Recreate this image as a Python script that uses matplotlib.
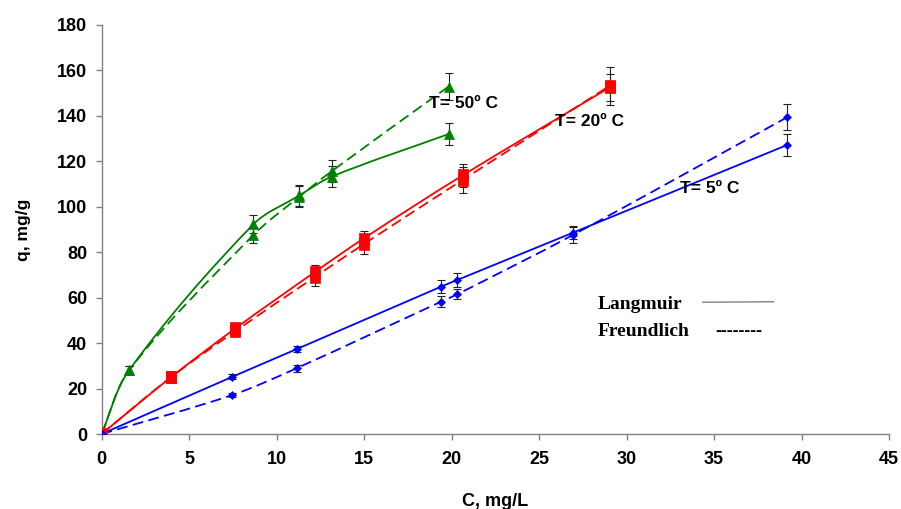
import matplotlib.pyplot as plt
from matplotlib.path import Path
from matplotlib.patches import PathPatch

# 50 C
c50 = [0, 1.57, 8.68, 11.31, 13.16, 19.83]
q50_lang = [0, 28, 92.3, 105, 113.3, 132]
q50_freu = [0, 28, 87.6, 104.5, 115.7, 152.9]
e50_lang = [0, 1.8, 4, 4.5, 4.7, 5]
e50_freu = [0, 1.8, 3.4, 4.5, 5, 6]

# 20 C
c20 = [0, 3.97, 7.65, 12.21, 14.97, 20.63, 29.03]
q20_lang = [0, 25, 46.5, 71.4, 86, 113.8, 152.5]
q20_freu = [0, 25, 45.3, 69.2, 83.5, 111.8, 153.2]
e20_lang = [0, 1.5, 2, 3, 3.5, 5, 6]
e20_freu = [0, 1.5, 2, 4, 4.4, 5.6, 8.4]

# 5 C
c5 = [0, 7.48, 11.16, 19.39, 20.33, 26.94, 39.18]
q5_lang = [0, 25.2, 37.4, 64.8, 67.8, 88.6, 127.2]
q5_freu = [0, 17.2, 29.0, 58.2, 61.5, 87.6, 139.4]
e5_lang = [0, 1, 1.5, 2.8, 3, 2.8, 5]
e5_freu = [0, 1, 1.5, 2.5, 2.3, 3.5, 5.7]

# rectangular marker, slightly taller than wide
tall_square = [(-0.4, -0.5), (0.4, -0.5), (0.4, 0.5), (-0.4, 0.5), (-0.4, -0.5)]

series = [
    (c50, q50_lang, e50_lang, '#008000', '^', '-', 7),
    (c50, q50_freu, e50_freu, '#008000', '^', '--', 7),
    (c20, q20_lang, e20_lang, '#FF0000', tall_square, '-', 8.5),
    (c20, q20_freu, e20_freu, '#FF0000', tall_square, '--', 8.5),
    (c5, q5_lang, e5_lang, '#0000FF', 'D', '-', 4.2),
    (c5, q5_freu, e5_freu, '#0000FF', 'D', '--', 4.2),
]

fig = plt.figure(figsize=(9.01, 5.09), dpi=100)
ax = fig.add_axes([0.1127, 0.1473, 0.874, 0.8036])
ax.set_xlim(0, 45)
ax.set_ylim(0, 180)


def smooth_path(x, y):
    # bezier through the points; tangent lengths follow the on-screen segment lengths
    sx = 787.5 / 45
    sy = 409.0 / 180
    pts = list(zip(x, y))
    n = len(pts)

    def dist(a, b):
        return (((b[0] - a[0]) * sx) ** 2 + ((b[1] - a[1]) * sy) ** 2) ** 0.5

    verts = [pts[0]]
    codes = [Path.MOVETO]
    for i in range(n - 1):
        p0 = pts[i - 1] if i > 0 else pts[i]
        p1 = pts[i]
        p2 = pts[i + 1]
        p3 = pts[i + 2] if i + 2 < n else pts[i + 1]
        d01, d12, d23 = dist(p0, p1), dist(p1, p2), dist(p2, p3)
        f1 = d12 / (d01 + d12) / 3
        f2 = d12 / (d12 + d23) / 3
        c1 = (p1[0] + (p2[0] - p0[0]) * f1, p1[1] + (p2[1] - p0[1]) * f1)
        c2 = (p2[0] - (p3[0] - p1[0]) * f2, p2[1] - (p3[1] - p1[1]) * f2)
        verts += [c1, c2, p2]
        codes += [Path.CURVE4] * 3
    return Path(verts, codes)


for x, y, err, color, marker, ls, ms in series:
    ax.add_patch(PathPatch(smooth_path(x, y), fill=False, edgecolor=color,
                           linestyle=(0, (6, 3)) if ls == '--' else '-',
                           linewidth=1.3, zorder=2))
    ax.errorbar(x, y, yerr=err, fmt='none', ecolor='#222222', elinewidth=0.8,
                capsize=2.8, capthick=0.8, zorder=3)
    ax.plot(x, y, linestyle='none', marker=marker, color=color,
            markersize=ms, markeredgecolor=color, markeredgewidth=0.5, zorder=4)

ax.set_xticks(range(0, 46, 5))
ax.set_yticks(range(0, 181, 20))

for side in ['top', 'right']:
    ax.spines[side].set_visible(False)
for side in ['left', 'bottom']:
    ax.spines[side].set_color('#808080')
    ax.spines[side].set_linewidth(1.0)
ax.tick_params(axis='both', direction='out', length=4.3, color='#808080', width=1.0)
ax.tick_params(axis='y', pad=6)
ax.tick_params(axis='x', pad=8)

for lbl in ax.get_xticklabels() + ax.get_yticklabels():
    lbl.set_fontfamily('Liberation Sans')
    lbl.set_fontweight('bold')
    lbl.set_fontsize(13)

ax.set_xlabel('C, mg/L', fontsize=13, fontweight='bold',
              family='Liberation Sans', labelpad=18)
ax.set_ylabel('q, mg/g', fontsize=12.5, fontweight='bold',
              family='Liberation Sans', labelpad=19)

ax.text(18.74, 143.4, 'T= 50º C', fontsize=12.5, fontweight='bold',
        family='Liberation Sans', va='baseline')
ax.text(25.93, 135.6, 'T= 20º C', fontsize=12.5, fontweight='bold',
        family='Liberation Sans', va='baseline')
ax.text(33.04, 105.9, 'T= 5º C', fontsize=12.5, fontweight='bold',
        family='Liberation Sans', va='baseline')

# hand-made key for the two isotherm models
ax.text(28.33, 54.9, 'Langmuir', fontsize=14, fontweight='bold',
        family='Liberation Serif', va='baseline')
ax.text(28.33, 43.1, 'Freundlich', fontsize=14, fontweight='bold',
        family='Liberation Serif', va='baseline')
ax.plot([34.36, 38.4], [58.0, 58.2], color='#808080', linewidth=1.0)
ax.text(35.07, 43.1, '--------', fontsize=13, fontweight='bold',
        family='Liberation Serif', va='baseline')

fig.savefig('out.png', dpi=100)
